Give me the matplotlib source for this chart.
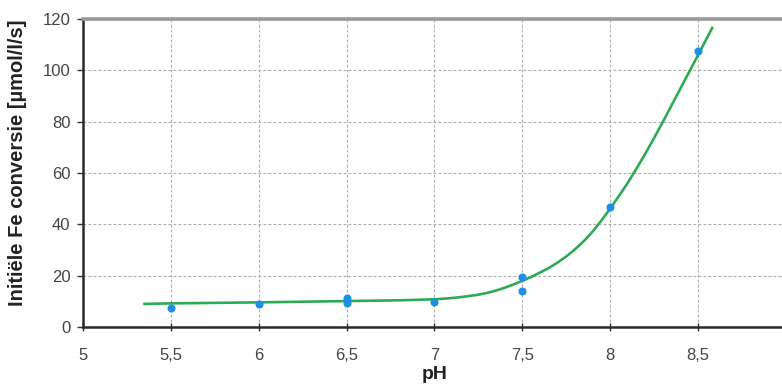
import matplotlib
matplotlib.use("Agg")
import matplotlib.pyplot as plt

# Measured initial Fe conversion rates per pH
ph_values = [5.5, 6.0, 6.5, 6.5, 7.0, 7.5, 7.5, 8.0, 8.5]
rate_values = [7.3, 9.0, 11.2, 9.2, 9.9, 19.4, 14.1, 46.7, 107.4]

# Fitted trend curve
curve_ph = [5.35, 5.5, 6.0, 6.5, 6.8, 7.0, 7.05, 7.1, 7.15, 7.2, 7.25, 7.3,
            7.35, 7.4, 7.45, 7.5, 7.55, 7.6, 7.65, 7.7, 7.75, 7.8, 7.85, 7.9,
            7.95, 8.0, 8.05, 8.1, 8.15, 8.2, 8.25, 8.3, 8.35, 8.4, 8.45, 8.5,
            8.58]
curve_rate = [9.0, 9.2, 9.6, 10.1, 10.4, 10.8, 11.0, 11.3, 11.65, 12.1, 12.6,
              13.3, 14.2, 15.3, 16.6, 18.0, 19.5, 21.2, 23.0, 25.1, 27.5, 30.3,
              33.5, 37.2, 41.5, 46.2, 51.1, 56.2, 61.8, 67.6, 73.7, 80.0, 86.5,
              93.0, 99.5, 106.0, 116.5]

x_ticks = [5, 5.5, 6, 6.5, 7, 7.5, 8, 8.5, 9]
x_tick_labels = ["5", "5,5", "6", "6,5", "7", "7,5", "8", "8,5", "9"]
y_ticks = [0, 20, 40, 60, 80, 100, 120]

plt.rcParams["font.family"] = ["Liberation Sans", "DejaVu Sans"]

fig = plt.figure(figsize=(7.82, 3.87), dpi=100)
ax = fig.add_axes([83 / 782, 60 / 387, (786 - 83) / 782, 308 / 387])

ax.plot(curve_ph, curve_rate, color="#2eaa57", lw=1.9, zorder=3, clip_on=False,
        solid_joinstyle="round")
ax.plot(ph_values, rate_values, "o", color="#1f8fe0", ms=4.8, mec="#1f8fe0",
        zorder=4, clip_on=False)

ax.set_xlim(5, 9)
ax.set_ylim(0, 120)
ax.set_xticks(x_ticks)
ax.set_xticklabels(x_tick_labels)
ax.set_yticks(y_ticks)

ax.grid(True, color="#ababab", lw=0.8, linestyle=(0, (2.5, 2)))
ax.set_axisbelow(True)

for side in ("left", "bottom"):
    ax.spines[side].set_color("#2a2a2a")
    ax.spines[side].set_linewidth(1.8)
ax.spines["top"].set_color("#9a9a9a")
ax.spines["top"].set_linewidth(2.6)
ax.spines["right"].set_visible(False)

ax.tick_params(axis="x", direction="inout", length=6, width=1.0,
               color="#333333", pad=12, labelsize=12, labelcolor="#444444")
ax.tick_params(axis="y", direction="out", length=4, width=1.0,
               color="#333333", pad=5, labelsize=12, labelcolor="#444444")

ax.set_xlabel("pH", fontsize=14, fontweight="bold", color="#222222", labelpad=2)
fig.text(18 / 782, 1 - 163 / 387, "Initiële Fe conversie [µmol/l/s]",
         rotation=90, fontsize=14.5, fontweight="bold", color="#222222",
         ha="center", va="center")

fig.savefig("out.png", dpi=100)
